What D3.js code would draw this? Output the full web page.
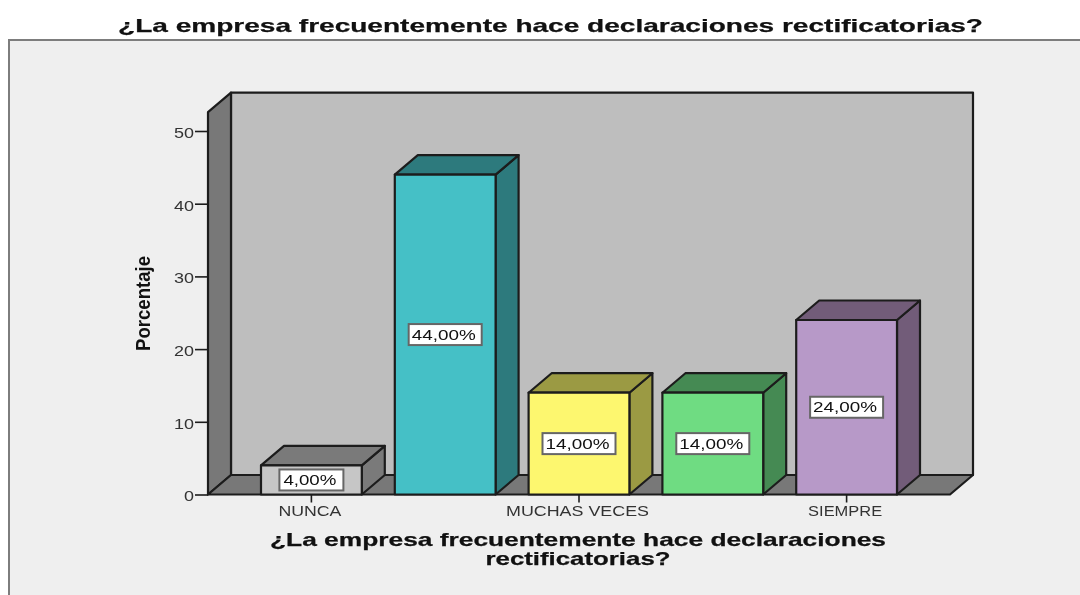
<!DOCTYPE html>
<html><head><meta charset="utf-8">
<script src="https://cdnjs.cloudflare.com/ajax/libs/d3/7.8.5/d3.min.js"></script>
<style>
html,body{margin:0;padding:0;background:#fff;overflow:hidden}
svg{display:block;filter:blur(0.5px)}
text{font-family:"Liberation Sans",Arial,sans-serif}
</style></head><body>
<svg id="c" width="1080" height="595"></svg>
<script>
const categories = ["NUNCA", "cat2", "MUCHAS VECES", "cat4", "SIEMPRE"];
const values = [4, 44, 14, 14, 24];
const valueLabels = ["4,00%", "44,00%", "14,00%", "14,00%", "24,00%"];
const shownTicks = ["NUNCA", "MUCHAS VECES", "SIEMPRE"];
const yTicks = [0, 10, 20, 30, 40, 50];
const chartTitle = "¿La empresa frecuentemente hace declaraciones rectificatorias?";
const xTitleLines = ["¿La empresa frecuentemente hace declaraciones", "rectificatorias?"];
const yTitle = "Porcentaje";
const frontColors = ["#c6c6c6", "#45c0c6", "#fdf76f", "#6fdc82", "#b799c8"];
const sideColors = ["#7a7a7a", "#2d7a7d", "#9b9a43", "#458a53", "#725c79"];

const svg = d3.select("#c");
const dx = 23, dy = -19.5, yMaxV = 52.6;
const yScale = d3.scaleLinear().domain([0, 50]).range([494.5, 131]);
const xScale = d3.scaleBand().domain(categories).range([261, 897]).paddingInner(0.2467).paddingOuter(0);
const plotL = 208, plotR = 950, plotB = yScale(0), plotT = yScale(yMaxV);
const ink = "#1c1c1c";
const poly = (pts, fill, sw = 2.2) => svg.append("path")
  .attr("d", d3.line()(pts) + "Z").attr("fill", fill).attr("stroke", ink)
  .attr("stroke-width", sw).attr("stroke-linejoin", "round");

// frame
svg.append("rect").attr("x", 9).attr("y", 40).attr("width", 1085).attr("height", 570)
  .attr("fill", "#efefef").attr("stroke", "#7d7d7d").attr("stroke-width", 2);

// chart title
svg.append("text").attr("x", 118).attr("y", 32).attr("font-size", 18.5).attr("font-weight", "bold")
  .attr("fill", "#111").attr("stroke", "#111").attr("stroke-width", 0.25)
  .attr("textLength", 865).attr("lengthAdjust", "spacingAndGlyphs").text(chartTitle);

// walls and floor
poly([[plotL + dx, plotT + dy], [plotR + dx, plotT + dy], [plotR + dx, plotB + dy], [plotL + dx, plotB + dy]], "#bebebe");
poly([[plotL, plotT], [plotL + dx, plotT + dy], [plotL + dx, plotB + dy], [plotL, plotB]], "#787878");
poly([[plotL, plotB], [plotL + dx, plotB + dy], [plotR + dx, plotB + dy], [plotR, plotB]], "#787878");

// bars
categories.forEach((c, i) => {
  const x0 = xScale(c), x1 = x0 + xScale.bandwidth(), yt = yScale(values[i]);
  poly([[x1, plotB], [x1 + dx, plotB + dy], [x1 + dx, yt + dy], [x1, yt]], sideColors[i]);
  poly([[x0, yt], [x0 + dx, yt + dy], [x1 + dx, yt + dy], [x1, yt]], sideColors[i]);
  poly([[x0, plotB], [x0, yt], [x1, yt], [x1, plotB]], frontColors[i]);
});

// value labels
categories.forEach((c, i) => {
  const cx = xScale(c) + xScale.bandwidth() / 2, cy = (yScale(values[i]) + plotB) / 2;
  const w = valueLabels[i].length === 5 ? 64 : 73, tw = valueLabels[i].length === 5 ? 53 : 64;
  svg.append("rect").attr("x", cx - w / 2).attr("y", cy - 10.5).attr("width", w).attr("height", 21)
    .attr("fill", "#fff").attr("stroke", "#666").attr("stroke-width", 2);
  svg.append("text").attr("x", cx - tw / 2 - 1.5).attr("y", cy + 5).attr("font-size", 14.5)
    .attr("fill", "#111").attr("textLength", tw).attr("lengthAdjust", "spacingAndGlyphs").text(valueLabels[i]);
});

// axes
const yAxis = svg.append("g").attr("transform", `translate(${plotL},0)`)
  .call(d3.axisLeft(yScale).tickValues(yTicks).tickSize(13).tickPadding(1));
yAxis.select(".domain").remove();
yAxis.selectAll("line").attr("stroke", ink).attr("stroke-width", 1.6);
yAxis.selectAll("text").attr("font-size", 14).attr("fill", "#333").attr("dy", "0.45em")
  .attr("font-family", '"Liberation Sans",Arial,sans-serif')
  .attr("textLength", d => d === 0 ? 10 : 20).attr("lengthAdjust", "spacingAndGlyphs");

const tickWidths = d3.scaleOrdinal().domain(shownTicks).range([63, 143, 74]);
const xAxis = svg.append("g").attr("transform", `translate(0,${plotB})`)
  .call(d3.axisBottom(xScale).tickValues(shownTicks).tickSize(8).tickPadding(3.5));
xAxis.select(".domain").remove();
xAxis.selectAll("line").attr("stroke", ink).attr("stroke-width", 1.6);
xAxis.selectAll("text").attr("font-size", 14).attr("fill", "#333").attr("dx", -1.5)
  .attr("font-family", '"Liberation Sans",Arial,sans-serif')
  .attr("textLength", d => tickWidths(d)).attr("lengthAdjust", "spacingAndGlyphs");

// axis titles
xTitleLines.forEach((t, i) => {
  const w = i === 0 ? 616 : 185;
  svg.append("text").attr("x", 578 - w / 2).attr("y", 546 + i * 19).attr("font-size", 18.5).attr("font-weight", "bold")
    .attr("fill", "#111").attr("stroke", "#111").attr("stroke-width", 0.25)
    .attr("textLength", w).attr("lengthAdjust", "spacingAndGlyphs").text(t);
});
svg.append("text").attr("transform", "translate(150,351) rotate(-90)").attr("font-size", 20).attr("font-weight", "bold")
  .attr("fill", "#111").attr("textLength", 95).attr("lengthAdjust", "spacingAndGlyphs").text(yTitle);
</script>
</body></html>
